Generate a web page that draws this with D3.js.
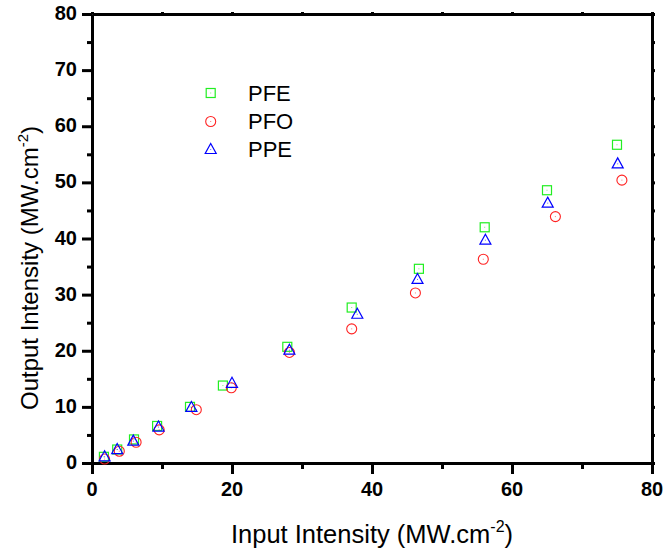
<!DOCTYPE html>
<html>
<head>
<meta charset="utf-8">
<script src="https://cdn.jsdelivr.net/npm/d3@7"></script>
<style>
  body { margin: 0; background: #fff; }
  text { font-family: Arial, "Liberation Sans", sans-serif; }
  .tick-label { font-size: 20px; font-weight: bold; }
  .frame .domain { stroke-width: 3px; }
  .frame line { stroke-width: 3px; }
</style>
</head>
<body>
<div id="container"></div>
<script>
var margin = {top: 14, right: 13, bottom: 91, left: 92},
    width = 665 - margin.left - margin.right,
    height = 554 - margin.top - margin.bottom;

// data
var pfeX = [1.7, 3.6, 6.0, 9.3, 14.0, 18.7, 27.9, 37.1, 46.7, 56.1, 65.0, 75.0];
var pfeY = [1.1, 2.4, 4.2, 6.6, 10.0, 13.8, 20.7, 27.7, 34.6, 42.0, 48.6, 56.7];
var pfoX = [1.8, 3.9, 6.3, 9.6, 14.9, 19.9, 28.2, 37.1, 46.2, 55.9, 66.2, 75.7];
var pfoY = [0.7, 2.1, 3.7, 5.9, 9.5, 13.4, 19.7, 23.9, 30.3, 36.3, 43.9, 50.4];
var ppeX = [1.8, 3.6, 5.9, 9.5, 14.2, 20.0, 28.2, 37.9, 46.5, 56.2, 65.1, 75.1];
var ppeY = [1.1, 2.4, 3.9, 6.4, 9.9, 14.2, 20.1, 26.5, 32.7, 39.7, 46.3, 53.3];

var seriesNames = ["PFE", "PFO", "PPE"];
var xTicks = [0, 20, 40, 60, 80];
var yTicks = [0, 10, 20, 30, 40, 50, 60, 70, 80];

function drawChart() {
  var svg = d3.select("#container")
    .append("svg")
      .attr("width", width + margin.left + margin.right)
      .attr("height", height + margin.top + margin.bottom)
    .append("g")
      .attr("transform", "translate(" + margin.left + "," + margin.top + ")");

  var x = d3.scaleLinear().domain([0, 80]).range([0, width]);
  var y = d3.scaleLinear().domain([0, 80]).range([height, 0]);

  var series = [
    {name: "PFE", xs: pfeX, ys: pfeY, color: "#22ee22", shape: "square"},
    {name: "PFO", xs: pfoX, ys: pfoY, color: "#ff2222", shape: "circle"},
    {name: "PPE", xs: ppeX, ys: ppeY, color: "#0000ff", shape: "triangle"}
  ];

  function drawMarker(g, shape, color) {
    if (shape === "square") {
      g.append("rect").attr("x", -4.5).attr("y", -4.5).attr("width", 9).attr("height", 9)
        .attr("fill", "none").attr("stroke", color).attr("stroke-width", 1.2);
    } else if (shape === "circle") {
      g.append("circle").attr("r", 5)
        .attr("fill", "none").attr("stroke", color).attr("stroke-width", 1.1);
    } else {
      g.append("path").attr("d", "M0,-6L5.5,4L-5.5,4Z")
        .attr("fill", "none").attr("stroke", color).attr("stroke-width", 1.2);
    }
    g.append("rect").attr("x", -0.5).attr("y", -0.5).attr("width", 1).attr("height", 1)
      .attr("fill", color).attr("opacity", 0.6);
  }

  // axis lines and ticks (labels drawn separately)
  svg.append("g").attr("class", "frame")
    .attr("transform", "translate(0," + height + ")")
    .call(d3.axisBottom(x).tickValues([10, 30, 50, 70]).tickSize(6).tickFormat("").tickSizeOuter(0));
  svg.append("g").attr("class", "frame")
    .attr("transform", "translate(0," + height + ")")
    .call(d3.axisBottom(x).tickValues(xTicks).tickSize(11).tickFormat("").tickSizeOuter(0));
  svg.append("g").attr("class", "frame")
    .call(d3.axisLeft(y).tickValues([5, 15, 25, 35, 45, 55, 65, 75]).tickSize(5).tickFormat("").tickSizeOuter(0));
  svg.append("g").attr("class", "frame")
    .call(d3.axisLeft(y).tickValues(yTicks).tickSize(10).tickFormat("").tickSizeOuter(0));
  svg.append("g").attr("class", "frame")
    .call(d3.axisTop(x).tickValues(d3.range(0, 81, 10)).tickSize(2).tickFormat("").tickSizeOuter(0));
  svg.append("g").attr("class", "frame")
    .attr("transform", "translate(" + width + ",0)")
    .call(d3.axisRight(y).tickValues(d3.range(0, 81, 5)).tickSize(3).tickFormat("").tickSizeOuter(0));

  svg.selectAll(".xlab")
    .data(xTicks)
    .enter().append("text")
      .attr("class", "tick-label")
      .attr("x", function(d) { return x(d); })
      .attr("y", height + 33)
      .attr("text-anchor", "middle")
      .attr("fill", "#000")
      .text(function(d) { return d; });

  svg.selectAll(".ylab")
    .data(yTicks)
    .enter().append("text")
      .attr("class", "tick-label")
      .attr("x", -15)
      .attr("y", function(d) { return y(d) + 6; })
      .attr("text-anchor", "end")
      .attr("fill", "#000")
      .text(function(d) { return d; });

  // points
  series.forEach(function(s) {
    s.xs.forEach(function(v, i) {
      var g = svg.append("g")
        .attr("transform", "translate(" + x(v) + "," + y(s.ys[i]) + ")");
      drawMarker(g, s.shape, s.color);
    });
  });

  // legend
  var legendY = [79, 107.5, 135.5];
  series.forEach(function(s, i) {
    var g = svg.append("g")
      .attr("transform", "translate(" + (210.7 - margin.left) + "," + legendY[i] + ")");
    drawMarker(g, s.shape, s.color);
    svg.append("text")
      .attr("x", 248 - margin.left)
      .attr("y", legendY[i] + 7.5)
      .style("font-size", "22px")
      .attr("fill", "#000")
      .text(seriesNames[i]);
  });

  // axis titles
  var xt = svg.append("text")
    .attr("x", 372 - margin.left)
    .attr("y", 543 - margin.top)
    .attr("text-anchor", "middle")
    .style("font-size", "25.5px")
    .attr("fill", "#000");
  xt.append("tspan").text("Input Intensity (MW.cm");
  xt.append("tspan").style("font-size", "16px").attr("dy", -11).text("-2");
  xt.append("tspan").attr("dy", 11).text(")");

  var yt = svg.append("text")
    .attr("transform", "translate(" + (38 - margin.left) + "," + (268 - margin.top) + ") rotate(-90)")
    .attr("text-anchor", "middle")
    .style("font-size", "24px")
    .attr("fill", "#000");
  yt.append("tspan").text("Output Intensity (MW.cm");
  yt.append("tspan").style("font-size", "15px").attr("dy", -10).text("-2");
  yt.append("tspan").attr("dy", 10).text(")");
}

drawChart();
</script>
</body>
</html>
